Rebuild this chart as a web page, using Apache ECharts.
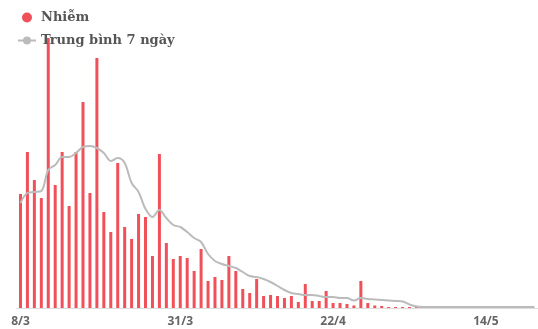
<!DOCTYPE html>
<html>
<head>
<meta charset="utf-8">
<script src="https://cdn.jsdelivr.net/npm/echarts@6/dist/echarts.min.js"></script>
<style>
  html, body { margin: 0; padding: 0; background: #fff; }
  #chart { width: 538px; height: 329px; }
</style>
</head>
<body>
<div id="chart"></div>
<script>
// Daily dates, 8/3 through 21/5
const days = [
  '8/3','9/3','10/3','11/3','12/3','13/3','14/3','15/3','16/3','17/3','18/3','19/3',
  '20/3','21/3','22/3','23/3','24/3','25/3','26/3','27/3','28/3','29/3','30/3','31/3',
  '1/4','2/4','3/4','4/4','5/4','6/4','7/4','8/4','9/4','10/4','11/4','12/4','13/4',
  '14/4','15/4','16/4','17/4','18/4','19/4','20/4','21/4','22/4','23/4','24/4','25/4',
  '26/4','27/4','28/4','29/4','30/4',
  '1/5','2/5','3/5','4/5','5/5','6/5','7/5','8/5','9/5','10/5','11/5','12/5','13/5',
  '14/5','15/5','16/5','17/5','18/5','19/5','20/5','21/5'
];

// New infections per day
const infected = [
  114, 156, 128, 110, 270, 123, 156, 102, 156, 206, 115, 250,
  96, 76, 145, 81, 69, 94, 91, 52, 154, 65, 49, 52,
  50, 37, 59, 27, 31, 28, 52, 37, 19, 15, 29, 12, 13,
  12, 10, 12, 6, 24, 7, 7, 17, 5, 5, 4, 2.5,
  27, 5, 2.5, 2, 1,
  1, 1, 1, 1, 1, 1, 1, 0, 0, 1, 1, 1, 1,
  0, 0, 0, 0, 0, 0, 0, 0
];

// 7-day average
const avg7 = [
  105, 115, 116, 117, 138, 143, 151, 151, 155, 161, 162, 160,
  155, 147, 150, 145, 125, 116, 99, 91, 98, 90, 83, 81,
  76, 70, 66, 54, 47, 44, 42, 40, 36, 32, 31, 29, 26,
  22, 18, 15, 14, 13, 13, 12, 11, 11, 10, 10, 7.5,
  10, 9, 8.5, 8, 7.5,
  7, 6.5, 3.5, 1.5, 1, 1, 1, 1, 1, 1, 1, 1, 1,
  1, 1, 1, 1, 1, 1, 1, 1
];

// Dates shown on the time axis
const tickLabels = ['8/3', '31/3', '22/4', '14/5'];

const chart = echarts.init(document.getElementById('chart'), null, { renderer: 'canvas' });

chart.setOption({
  animation: false,
  backgroundColor: '#fff',
  grid: { left: 17, right: 0, top: 38, bottom: 21, containLabel: false },
  legend: {
    orient: 'vertical',
    left: 17,
    top: 11,
    padding: 0,
    itemGap: 10,
    itemWidth: 18,
    itemHeight: 10,
    textStyle: { fontFamily: 'DejaVu Serif', fontSize: 13, color: '#555', fontWeight: 'bold' },
    data: [
      { name: 'Nhiễm', icon: 'circle' },
      { name: 'Trung bình 7 ngày' }
    ]
  },
  xAxis: {
    type: 'category',
    data: days,
    boundaryGap: true,
    axisLine: { show: true, lineStyle: { color: '#ddd', width: 1 } },
    axisTick: { show: false },
    axisLabel: {
      interval: (i, v) => tickLabels.includes(v),
      margin: 8,
      fontFamily: 'Open Sans',
      fontWeight: 'bold',
      fontSize: 12,
      color: '#666'
    },
    splitLine: { show: false }
  },
  yAxis: {
    type: 'value',
    min: 0,
    max: 270,
    show: false,
    splitLine: { show: false }
  },
  series: [
    {
      name: 'Nhiễm',
      type: 'bar',
      data: infected,
      barWidth: 3,
      itemStyle: { color: '#f0505a' },
      z: 2
    },
    {
      name: 'Trung bình 7 ngày',
      type: 'line',
      data: avg7,
      smooth: 0.35,
      symbol: 'circle',
      symbolSize: 6,
      showSymbol: false,
      lineStyle: { color: '#bbbbbb', width: 2 },
      itemStyle: { color: '#bbbbbb' },
      z: 3
    }
  ]
});
</script>
</body>
</html>
